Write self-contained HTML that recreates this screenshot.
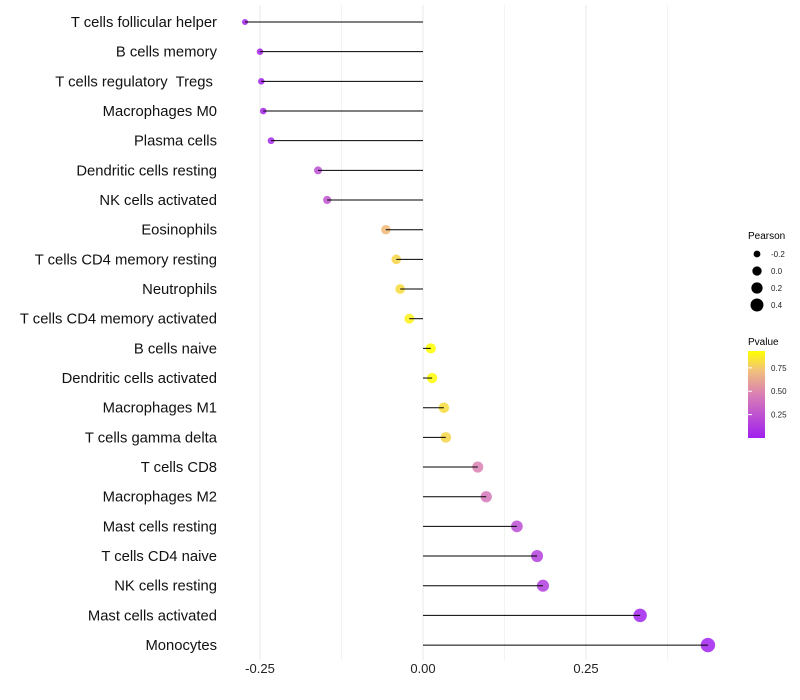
<!DOCTYPE html>
<html><head><meta charset="utf-8"><style>
body{margin:0;background:#fff;}
svg{display:block;font-family:"Liberation Sans",sans-serif;}
text{white-space:pre;}
</style></head><body>
<svg id="chart" width="800" height="700">
<defs><linearGradient id="pg" x1="0" y1="1" x2="0" y2="0">
<stop offset="0" stop-color="#A020F0"/><stop offset="0.5" stop-color="#D97FB4"/><stop offset="0.78" stop-color="#F2C27A"/><stop offset="1" stop-color="#FFFF00"/></linearGradient></defs>
<g id="grid"></g>
<g id="marks"></g>
<g id="ylab"></g>
<g id="xlab"></g>
<g id="sleg">
<text x="748" y="239" font-size="10" fill="#000">Pearson</text>
</g>
<g>
<text x="748" y="345" font-size="10" fill="#000">Pvalue</text>
<rect x="748" y="351" width="17" height="87" fill="url(#pg)"/>
<g id="cleg"></g>
</g>
</svg>
<script>
const cells=["T cells follicular helper","B cells memory","T cells regulatory  Tregs ","Macrophages M0","Plasma cells","Dendritic cells resting","NK cells activated","Eosinophils","T cells CD4 memory resting","Neutrophils","T cells CD4 memory activated","B cells naive","Dendritic cells activated","Macrophages M1","T cells gamma delta","T cells CD8","Macrophages M2","Mast cells resting","T cells CD4 naive","NK cells resting","Mast cells activated","Monocytes"];
const pearson=[-0.273,-0.250,-0.248,-0.245,-0.233,-0.161,-0.147,-0.057,-0.041,-0.035,-0.021,0.012,0.014,0.032,0.035,0.084,0.097,0.144,0.175,0.184,0.333,0.437];
const pvalue=[0.02,0.02,0.02,0.03,0.04,0.22,0.25,0.68,0.78,0.80,0.88,0.93,0.92,0.80,0.78,0.47,0.42,0.22,0.16,0.14,0.02,0.01];
const xTicks=[-0.25,0,0.25];
const xTickLabels=["-0.25","0.00","0.25"];
const sizeLegend=[-0.2,0,0.2,0.4];
const colorTicks=[0.25,0.5,0.75];
const colorTickLabels=["0.25","0.50","0.75"];
const NS="http://www.w3.org/2000/svg";
const X=v=>423+v*652;
const Y=i=>22+i*29.67;
const R=v=>Math.sqrt(Math.max(3,25.7+60*v));
const stops=[[0,[160,32,240]],[0.5,[217,127,180]],[0.72,[240,180,120]],[1,[255,255,0]]];
function col(p){let t=Math.min(1,Math.max(0,p/0.93));for(let k=1;k<stops.length;k++){if(t<=stops[k][0]){const a=stops[k-1],b=stops[k];const f=(t-a[0])/(b[0]-a[0]);const c=a[1].map((x,j)=>Math.round(x+(b[1][j]-x)*f));return `rgb(${c})`;}}return "rgb(255,255,0)";}
function mk(tag,at,parent){const e=document.createElementNS(NS,tag);for(const k in at)e.setAttribute(k,at[k]);parent.appendChild(e);return e;}
const grid=document.getElementById('grid'),marks=document.getElementById('marks'),ylab=document.getElementById('ylab'),xlab=document.getElementById('xlab');
[-0.25,-0.125,0,0.125,0.25,0.375].forEach(v=>{const l=mk('line',{x1:X(v),x2:X(v),y1:5,y2:660,stroke:'#ebebeb','stroke-width':v*8%2==0?1.1:0.6},grid);

});
xTicks.forEach((v,i)=>{const t=mk('text',{x:X(v),y:673,'font-size':13,fill:'#222','text-anchor':'middle'},xlab);t.textContent=xTickLabels[i];

});
cells.forEach((c,i)=>{
const pt=mk('circle',{cx:X(pearson[i]),cy:Y(i),r:R(pearson[i]),fill:col(pvalue[i]),'fill-opacity':0.85},marks);


const ln=mk('line',{x1:X(0),x2:X(pearson[i]),y1:Y(i),y2:Y(i),stroke:'#000','stroke-width':1},marks);


const t=mk('text',{x:217,y:Y(i)+5,'font-size':14.8,fill:'#111','text-anchor':'end'},ylab);t.textContent=c;

});
const sleg=document.getElementById('sleg');
sizeLegend.forEach((v,i)=>{const y=254+i*17;const c=mk('circle',{cx:757,cy:y,r:R(v)*0.92,fill:'#000'},sleg);


const t=mk('text',{x:771,y:y+3,'font-size':8,fill:'#222'},sleg);t.textContent=(v===0?"0.0":String(v));

});
const cleg=document.getElementById('cleg');
colorTicks.forEach((v,i)=>{const y=438-v/0.93*87;
const l=mk('line',{x1:748,x2:752,y1:y,y2:y,stroke:'#fff'},cleg);

const t=mk('text',{x:771,y:y+3,'font-size':8,fill:'#222'},cleg);t.textContent=colorTickLabels[i];

});
</script>
</body></html>
